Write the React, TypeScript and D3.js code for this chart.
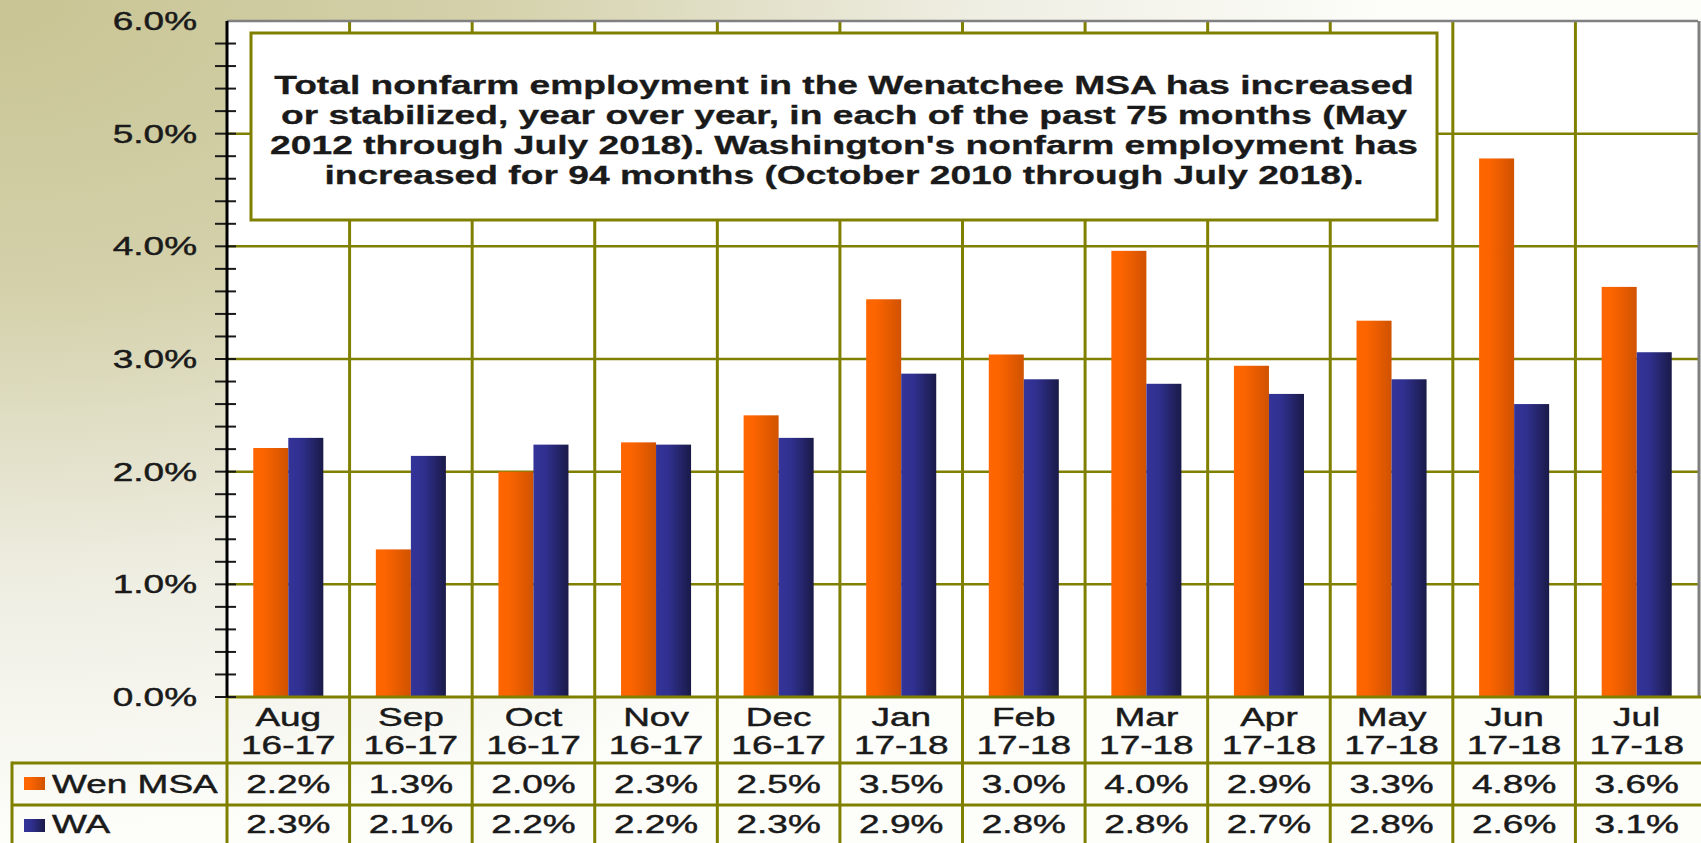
import * as d3 from 'd3'

const CATEGORIES = ['Aug', 'Sep', 'Oct', 'Nov', 'Dec', 'Jan', 'Feb', 'Mar', 'Apr', 'May', 'Jun', 'Jul']
const YEARS = ['16-17', '16-17', '16-17', '16-17', '16-17', '17-18', '17-18', '17-18', '17-18', '17-18', '17-18', '17-18']
const WEN_MSA = [2.21, 1.31, 2.0, 2.26, 2.5, 3.53, 3.04, 3.96, 2.94, 3.34, 4.78, 3.64]
const WA = [2.3, 2.14, 2.24, 2.24, 2.3, 2.87, 2.82, 2.78, 2.69, 2.82, 2.6, 3.06]
const SERIES = ['Wen MSA', 'WA']
const Y_TICKS = [0, 1, 2, 3, 4, 5, 6]
const NOTE_LINES = [
  'Total nonfarm employment in the Wenatchee MSA has increased',
  'or stabilized, year over year, in each of the past 75 months (May',
  "2012 through July 2018). Washington's nonfarm employment has",
  'increased for 94 months (October 2010 through July 2018).',
]

const W = 1701
const H = 843
const OLIVE = '#808000'
const FONT = "'Liberation Sans', Arial, sans-serif"
const SX = 1.45 // text in the source is stretched sideways

const margin = { top: 21, right: 3, left: 227, bottom: 146 }
const plotBottom = H - margin.bottom
const rowH = [66, 42, 42]
const legendLeft = 12

function SText({ x, y, anchor = 'middle', size = 25.5, weight = 'normal', sx = SX, children }: any) {
  return (
    <text
      transform={`translate(${x},${y}) scale(${sx},1)`}
      textAnchor={anchor}
      fontSize={size}
      fontWeight={weight}
      fontFamily={FONT}
      fill="#1a1a1a"
      stroke="#1a1a1a"
      strokeWidth={weight === 'bold' ? 0.3 : 0.45}
    >
      {children}
    </text>
  )
}

export default function App() {
  const x = d3.scaleBand<number>()
    .domain(CATEGORIES.map((_, i) => i))
    .range([margin.left, W - margin.right])
  const xs = d3.scaleBand<string>()
    .domain(SERIES)
    .range([0, x.bandwidth()])
    .paddingOuter(0.75)
  const y = d3.scaleLinear().domain([0, 6]).range([plotBottom, margin.top])
  const minorTicks = d3.range(0, 30).map(i => i * 0.2)

  const row1Top = plotBottom + rowH[0]
  const row2Top = row1Top + rowH[1]
  const tableBottom = H
  const values = [WEN_MSA, WA]
  const fills = ['url(#gOrange)', 'url(#gBlue)']
  const bounds = d3.range(1, CATEGORIES.length).map(i => x(i) as number)

  return (
    <div style={{ position: 'absolute', left: 0, top: 0 }}>
      <svg width={W} height={H} style={{ display: 'block' }}>
        <defs>
          <radialGradient id="bg" gradientUnits="userSpaceOnUse" cx={0} cy={0} r={1400}
            gradientTransform="scale(1,0.6)">
            <stop offset="0" stopColor="#c8c493" />
            <stop offset="0.35" stopColor="#d4d1ab" />
            <stop offset="0.7" stopColor="#efeee3" />
            <stop offset="1" stopColor="#fdfdfa" />
          </radialGradient>
          <linearGradient id="gOrange" x1="0" x2="1" y1="0" y2="0">
            <stop offset="0" stopColor="#ff6600" />
            <stop offset="0.3" stopColor="#fb6400" />
            <stop offset="1" stopColor="#d05200" />
          </linearGradient>
          <linearGradient id="gBlue" x1="0" x2="1" y1="0" y2="0">
            <stop offset="0" stopColor="#343499" />
            <stop offset="0.35" stopColor="#303090" />
            <stop offset="1" stopColor="#1a1a48" />
          </linearGradient>
        </defs>

        <rect width={W} height={H} fill="url(#bg)" />
        <rect x={margin.left} y={margin.top} width={W - margin.right - margin.left}
          height={plotBottom - margin.top} fill="#ffffff" />

        {/* horizontal gridlines */}
        {Y_TICKS.slice(1, -1).map(t => (
          <line key={t} x1={margin.left} x2={W - margin.right} y1={y(t)} y2={y(t)}
            stroke={OLIVE} strokeWidth={2.5} />
        ))}

        {/* vertical gridlines through plot and table */}
        {bounds.map(b => (
          <line key={b} x1={b} x2={b} y1={margin.top} y2={tableBottom} stroke={OLIVE} strokeWidth={3} />
        ))}

        {/* note box */}
        <rect x={251} y={33} width={1186} height={187} fill="#ffffff" stroke={OLIVE} strokeWidth={3} />
        {NOTE_LINES.map((l, i) => (
          <SText key={i} x={844} y={93.5 + i * 30.2} size={26} weight="bold" sx={1.43}>{l}</SText>
        ))}

        {/* bars */}
        {CATEGORIES.map((c, i) => (
          <g key={c + i} transform={`translate(${x(i)},0)`}>
            {SERIES.map((s, k) => (
              <rect key={s} x={xs(s)} y={y(values[k][i])} width={xs.bandwidth()}
                height={y(0) - y(values[k][i])} fill={fills[k]} />
            ))}
          </g>
        ))}

        {/* plot frame */}
        <line x1={margin.left} x2={W - margin.right} y1={margin.top} y2={margin.top} stroke="#808080" strokeWidth={2.5} />
        <line x1={W - margin.right + 1} x2={W - margin.right + 1} y1={margin.top} y2={plotBottom} stroke="#808080" strokeWidth={3} />

        {/* table lines */}
        <line x1={margin.left} x2={W} y1={plotBottom} y2={plotBottom} stroke={OLIVE} strokeWidth={3} />
        <line x1={legendLeft} x2={W} y1={row1Top} y2={row1Top} stroke={OLIVE} strokeWidth={3} />
        <line x1={legendLeft} x2={W} y1={row2Top} y2={row2Top} stroke={OLIVE} strokeWidth={3} />
        <line x1={legendLeft} x2={legendLeft} y1={row1Top - 1.5} y2={tableBottom} stroke={OLIVE} strokeWidth={3} />
        <line x1={margin.left} x2={margin.left} y1={plotBottom} y2={tableBottom} stroke={OLIVE} strokeWidth={3} />

        {/* y axis */}
        {minorTicks.map(t => (
          <line key={t} x1={margin.left - 12} x2={margin.left + 9} y1={y(t)} y2={y(t)}
            stroke="#1a1a1a" strokeWidth={2} />
        ))}
        <line x1={margin.left} x2={margin.left} y1={margin.top} y2={plotBottom} stroke="#000" strokeWidth={3} />
        {Y_TICKS.map(t => (
          <SText key={t} x={197} y={y(t) + 9} anchor="end">{d3.format('.1f')(t) + '%'}</SText>
        ))}

        {/* category header and value rows */}
        {CATEGORIES.map((c, i) => {
          const cx = (x(i) as number) + x.bandwidth() / 2
          return (
            <g key={'h' + i}>
              <SText x={cx} y={plotBottom + 29}>{c}</SText>
              <SText x={cx} y={plotBottom + 57}>{YEARS[i]}</SText>
              <SText x={cx} y={row1Top + 30}>{d3.format('.1f')(WEN_MSA[i]) + '%'}</SText>
              <SText x={cx} y={row2Top + 28}>{d3.format('.1f')(WA[i]) + '%'}</SText>
            </g>
          )
        })}

        {/* legend cells */}
        {SERIES.map((s, k) => {
          const top = k === 0 ? row1Top : row2Top
          return (
            <g key={s}>
              <rect x={24} y={top + 14} width={21} height={13} fill={fills[k]} />
              <SText x={52} y={top + (k === 0 ? 30 : 28)} anchor="start">{s}</SText>
            </g>
          )
        })}
      </svg>
    </div>
  )
}
